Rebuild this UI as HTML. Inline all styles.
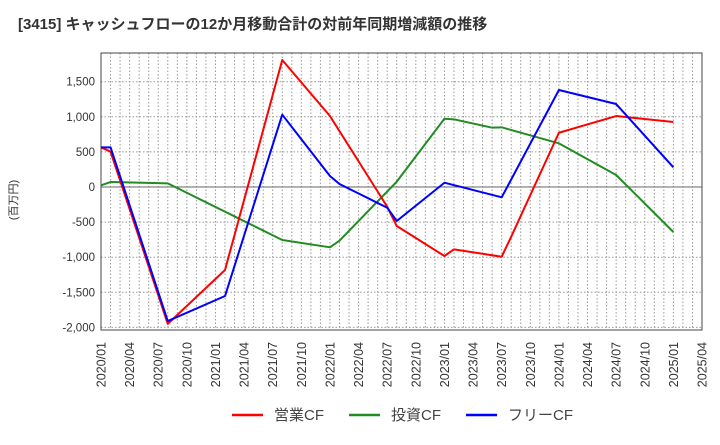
<!DOCTYPE html>
<html><head><meta charset="utf-8"><style>
body{margin:0;background:#fff;width:720px;height:440px;overflow:hidden;font-family:"Liberation Sans","Noto Sans CJK JP",sans-serif;}
</style></head><body>
<svg id="chart" width="720" height="440" xmlns="http://www.w3.org/2000/svg" font-family="'Liberation Sans','Noto Sans CJK JP',sans-serif">
<text x="18" y="29" font-size="15" font-weight="bold" fill="#333">[3415]  キャッシュフローの12か月移動合計の対前年同期増減額の推移</text>
<text transform="translate(17,200) rotate(-90)" font-size="11" fill="#333" text-anchor="middle">(百万円)</text>
<g id="grid"></g>
<g id="axes"></g>
<g id="series"></g>
<g font-size="15" fill="#444">
<line x1="232" y1="415" x2="263" y2="415" stroke="#ff0000" stroke-width="2.5"/>
<text x="274" y="420">営業CF</text>
<line x1="349" y1="415" x2="380" y2="415" stroke="#228b22" stroke-width="2.5"/>
<text x="391" y="420">投資CF</text>
<line x1="466" y1="415" x2="497" y2="415" stroke="#0000ff" stroke-width="2.5"/>
<text x="508" y="420">フリーCF</text>
</g>
</svg>
<script>
const yTicks=[1500,1000,500,0,-500,-1000,-1500,-2000];
const yTickLabels=["1,500","1,000","500","0","-500","-1,000","-1,500","-2,000"];
const xTickLabels=["2020/01","2020/04","2020/07","2020/10","2021/01","2021/04","2021/07","2021/10","2022/01","2022/04","2022/07","2022/10","2023/01","2023/04","2023/07","2023/10","2024/01","2024/04","2024/07","2024/10","2025/01","2025/04"];
const opMonths=[0,1,7,13,19,24,30,31,36,37,42,43,48,54,60];
const opValues=[565,503,-1950,-1182,1809,1011,-280,-556,-983,-888,-993,-708,773,1011,926];
const invMonths=[0,1,7,19,24,25,31,36,37,41,42,48,54,60];
const invValues=[24,71,52,-755,-859,-765,76,973,964,845,850,622,171,-641];
const freeMonths=[0,1,7,13,19,24,25,30,31,36,42,48,54,60];
const freeValues=[565,565,-1910,-1553,1030,157,43,-295,-484,61,-147,1382,1182,280];

const L=101,R=702,T=53,B=330;
const x=m=>L+m*(R-L)/63;
const y=v=>187-v*0.0702;
const NS="http://www.w3.org/2000/svg";
function mk(tag,attrs,parent){const e=document.createElementNS(NS,tag);for(const k in attrs)e.setAttribute(k,attrs[k]);parent.appendChild(e);return e;}
const grid=document.getElementById('grid'),axes=document.getElementById('axes'),series=document.getElementById('series');
for(let m=1;m<63;m++){
 const g=mk('line',{x1:x(m),x2:x(m),y1:T,y2:B,stroke:'#999','stroke-dasharray':'1.5,2','stroke-width':1},grid);
 
 
}
yTicks.forEach((v,i)=>{
 if(v!==0){const g=mk('line',{x1:L,x2:R,y1:y(v),y2:y(v),stroke:'#999','stroke-dasharray':'1.5,2','stroke-width':1},grid);
 
 }
 const t=mk('text',{x:L-6,y:y(v)+4,'text-anchor':'end','font-size':11.5,fill:'#333'},axes);
 t.textContent=yTickLabels[i];
 
 
});
const z=mk('line',{x1:L,x2:R,y1:y(0),y2:y(0),stroke:'#666','stroke-width':1},axes);


const fr=mk('rect',{x:L,y:T,width:R-L,height:B-T,fill:'none',stroke:'#444','stroke-width':1},axes);


xTickLabels.forEach((s,i)=>{
 const xx=x(i*3);
 const t=mk('text',{transform:`translate(${xx+4.5},${B+12}) rotate(-90)`,'text-anchor':'end','font-size':12.5,fill:'#333'},axes);
 t.textContent=s;
 
 
});
function line(ms,vs,color,name){
 const p=mk('polyline',{points:ms.map((m,i)=>x(m)+','+y(vs[i])).join(' '),fill:'none',stroke:color,'stroke-width':2,'stroke-linejoin':'round'},series);
 
 
}
line(invMonths,invValues,'#228b22','investing-cf-line');
line(opMonths,opValues,'#ff0000','operating-cf-line');
line(freeMonths,freeValues,'#0000ff','free-cf-line');
</script>
</body></html>
